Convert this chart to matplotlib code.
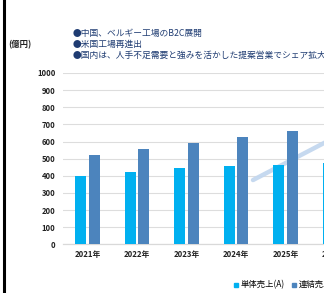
import matplotlib
matplotlib.use("Agg")
import matplotlib.pyplot as plt
from matplotlib.lines import Line2D
import numpy as np

plt.rcParams['font.family'] = ['Noto Sans CJK JP', 'DejaVu Sans']

years = ['2021年', '2022年', '2023年', '2024年', '2025年', '2026年']
single_sales = [400, 424, 444, 456, 464, 477]
consolidated_sales = [522, 555, 590, 626, 663, 700]
yticks = [0, 100, 200, 300, 400, 500, 600, 700, 800, 900, 1000]
series_names = ['単体売上(A)', '連結売上(B)']
headlines = ['●中国、ベルギー工場のB2C展開',
             '●米国工場再進出',
             '●国内は、人手不足需要と強みを活かした提案営業でシェア拡大']
unit_label = '(億円)'

W, H = 324, 293
fig = plt.figure(figsize=(W/100, H/100), dpi=100)
fig.patch.set_facecolor('white')

ax_left = 62.75
per_cat = 49.5
ax_w = per_cat * 6
ax_bottom = 244.3
ax_h = 171.3
ax = fig.add_axes([ax_left/W, (H-ax_bottom)/H, ax_w/W, ax_h/H])

light = '#00B0F0'
dark = '#4C84BD'
x = np.arange(len(years))
bw = 0.222
off = 0.141
ax.bar(x - off, single_sales, bw, color=light, zorder=3)
ax.bar(x + off, consolidated_sales, bw, color=dark, zorder=3)

ax.set_xlim(-0.5, 5.5)
ax.set_ylim(0, 1000)
ax.set_yticks(yticks)
ax.set_yticklabels([str(v) for v in yticks], fontsize=5.5, fontweight='bold', color='#222222')
ax.set_xticks(x)
ax.set_xticklabels(years, fontsize=5.6, fontweight='bold', color='#222222')
ax.tick_params(axis='both', length=0)
ax.tick_params(axis='y', pad=5.4)
ax.tick_params(axis='x', pad=4)
ax.grid(axis='y', color='#DDDDDD', linewidth=0.8, zorder=0)
for s in ['top', 'right', 'left']:
    ax.spines[s].set_visible(False)
ax.spines['bottom'].set_color('#D9D9D9')
ax.spines['bottom'].set_linewidth(0.9)

# trend arrow (decoration)
ax.plot([3.343, 5.3], [375, 670], color='#C3D7EF', linewidth=3.2,
        solid_capstyle='round', zorder=2, alpha=0.95)

# headline texts
navy = '#1F3C72'
for i, t in enumerate(headlines):
    fig.text(73/W, 1 - (33 + 11*i)/H, t, fontsize=6.3, color=navy,
             ha='left', va='center')
fig.text(8/W, 1 - 45/H, unit_label, fontsize=6, fontweight='bold',
         color='#222222', ha='left', va='center')

# legend
handles = [Line2D([], [], marker='s', linestyle='none', color=light, markersize=3.5),
           Line2D([], [], marker='s', linestyle='none', color=dark, markersize=3.5)]
fig.legend(handles, series_names, loc='center left', bbox_to_anchor=(233/W, 8/H),
           ncol=2, frameon=False, fontsize=6, handlelength=0.6, handletextpad=0.3,
           columnspacing=0.8, borderpad=0, borderaxespad=0)

# left border line
fig.add_artist(Line2D([3.5/W, 3.5/W], [0, 1], color='black', linewidth=2.2,
                      transform=fig.transFigure))

fig.savefig('out.png', dpi=100, facecolor='white')
